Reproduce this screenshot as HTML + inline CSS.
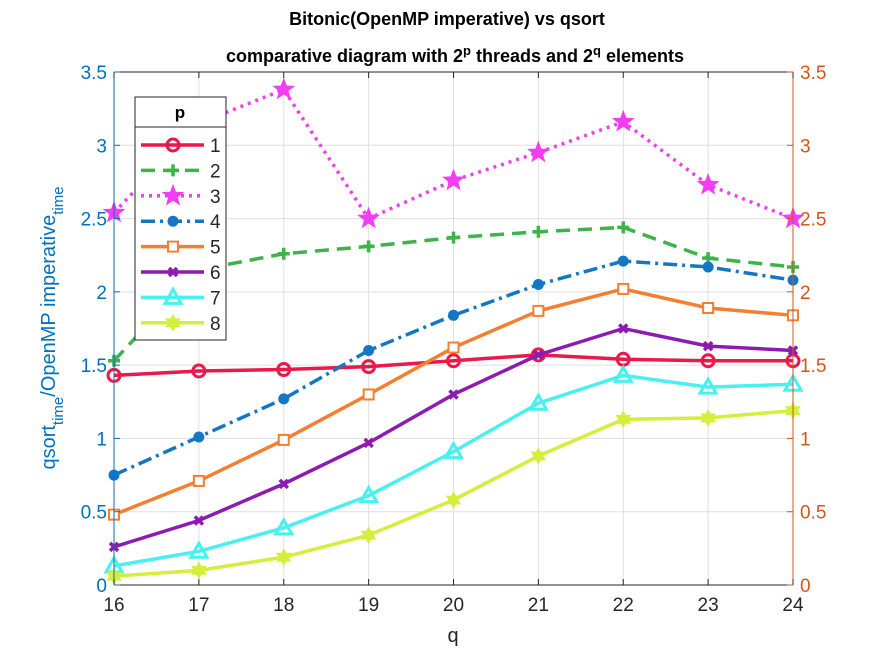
<!DOCTYPE html>
<html><head><meta charset="utf-8"><style>
body{margin:0;background:#fff;}
svg{font-family:"Liberation Sans",Arial,sans-serif;}
</style></head><body>
<svg id="chart" width="875" height="656" xmlns="http://www.w3.org/2000/svg">
<rect width="875" height="656" fill="#fff"/>
<g id="grid"></g>
<g id="series"></g>
<g id="axes"></g>
<text x="447" y="25" text-anchor="middle" font-size="18" font-weight="bold">Bitonic(OpenMP imperative) vs qsort</text>
<text x="455" y="62" text-anchor="middle" font-size="18" font-weight="bold">comparative diagram with 2<tspan dy="-7" font-size="13">p</tspan><tspan dy="7"> threads and 2</tspan><tspan dy="-7" font-size="13">q</tspan><tspan dy="7"> elements</tspan></text>
<text x="453" y="642" text-anchor="middle" font-size="20" fill="#262626">q</text>
<text transform="translate(55,328) rotate(-90)" text-anchor="middle" font-size="20" fill="#0072BD">qsort<tspan dy="8" font-size="15">time</tspan><tspan dy="-8">/OpenMP imperative</tspan><tspan dy="8" font-size="15">time</tspan></text>
<g id="legend"></g>
</svg>
<script>
const categories=[16,17,18,19,20,21,22,23,24];
const yTicks=[0,0.5,1,1.5,2,2.5,3,3.5];
const yTickLabels=["0","0.5","1","1.5","2","2.5","3","3.5"];
const seriesNames=["1","2","3","4","5","6","7","8"];
const s1=[1.43,1.46,1.47,1.49,1.53,1.57,1.54,1.53,1.53];
const s2=[1.53,2.15,2.26,2.31,2.37,2.41,2.44,2.23,2.17];
const s3=[2.54,3.15,3.38,2.50,2.76,2.95,3.16,2.73,2.50];
const s4=[0.75,1.01,1.27,1.60,1.84,2.05,2.21,2.17,2.08];
const s5=[0.48,0.71,0.99,1.30,1.62,1.87,2.02,1.89,1.84];
const s6=[0.26,0.44,0.69,0.97,1.30,1.57,1.75,1.63,1.60];
const s7=[0.13,0.23,0.39,0.61,0.91,1.24,1.43,1.35,1.37];
const s8=[0.06,0.10,0.19,0.34,0.58,0.88,1.13,1.14,1.19];
const allSeries=[s1,s2,s3,s4,s5,s6,s7,s8];

const L=114,R=793,T=72,B=585;
const X=v=>L+(v-16)/8*(R-L);
const Y=v=>B-v/3.5*(B-T);
const NS="http://www.w3.org/2000/svg";
function mk(tag,attrs,parent){const e=document.createElementNS(NS,tag);for(const k in attrs)e.setAttribute(k,attrs[k]);parent.appendChild(e);return e;}
const styles=[
{c:"#E8194B",dash:"",m:"circle"},
{c:"#3DB34A",dash:"14 8",m:"plus"},
{c:"#F23EF2",dash:"3 5",m:"star"},
{c:"#1477C4",dash:"14 5 3 5",m:"dot"},
{c:"#F47F30",dash:"",m:"square"},
{c:"#8E1BB1",dash:"",m:"x"},
{c:"#49F0F0",dash:"",m:"tri"},
{c:"#D4EE3C",dash:"",m:"hex"}];
function starPts(cx,cy,ro,ri,n){let p=[];for(let i=0;i<2*n;i++){const r=i%2?ri:ro;const a=-Math.PI/2+i*Math.PI/n;p.push((cx+r*Math.cos(a)).toFixed(1)+","+(cy+r*Math.sin(a)).toFixed(1));}return p.join(" ");}
function marker(g,type,x,y,c){
 let e;
 if(type=="circle")e=mk("circle",{cx:x,cy:y,r:6,fill:"none",stroke:c,"stroke-width":3},g);
 else if(type=="plus")e=mk("path",{d:`M${x-6} ${y}H${x+6}M${x} ${y-6}V${y+6}`,stroke:c,"stroke-width":3.5},g);
 else if(type=="star")e=mk("polygon",{points:starPts(x,y,12,5,5),fill:c},g);
 else if(type=="dot")e=mk("circle",{cx:x,cy:y,r:5.5,fill:c},g);
 else if(type=="square")e=mk("rect",{x:x-5,y:y-5,width:10,height:10,fill:"#fff",stroke:c,"stroke-width":2},g);
 else if(type=="x")e=mk("path",{d:`M${x-4} ${y-4}L${x+4} ${y+4}M${x+4} ${y-4}L${x-4} ${y+4}`,stroke:c,"stroke-width":3.5},g);
 else if(type=="tri")e=mk("polygon",{points:`${x},${y-8} ${x+8},${y+6} ${x-8},${y+6}`,fill:"none",stroke:c,"stroke-width":3},g);
 else e=mk("polygon",{points:starPts(x,y,9,5,6),fill:c},g);
 return e;
}
const grid=document.getElementById("grid");
categories.forEach(q=>{const l=mk("line",{x1:X(q),x2:X(q),y1:T,y2:B,stroke:"#dfdfdf"},grid);

});
yTicks.forEach(v=>{const l=mk("line",{x1:L,x2:R,y1:Y(v),y2:Y(v),stroke:"#dfdfdf"},grid);

});
const sg=document.getElementById("series");
allSeries.forEach((d,i)=>{
 const st=styles[i];
 const g=mk("g",{},sg);
 
 
 const pl=mk("polyline",{points:d.map((v,j)=>X(categories[j])+","+Y(v)).join(" "),fill:"none",stroke:st.c,"stroke-width":3.5,"stroke-dasharray":st.dash},g);
 
 
 d.forEach((v,j)=>{const m=marker(g,st.m,X(categories[j]),Y(v),st.c);
 
 });
});
const ax=document.getElementById("axes");
mk("line",{x1:L,x2:R,y1:T,y2:T,stroke:"#262626"},ax);
mk("line",{x1:L,x2:R,y1:B,y2:B,stroke:"#262626"},ax);
mk("line",{x1:L,x2:L,y1:T,y2:B,stroke:"#0072BD"},ax);
mk("line",{x1:R,x2:R,y1:T,y2:B,stroke:"#D95319"},ax);
categories.forEach(q=>{
 mk("line",{x1:X(q),x2:X(q),y1:B,y2:B-6,stroke:"#262626"},ax);
 mk("line",{x1:X(q),x2:X(q),y1:T,y2:T+6,stroke:"#262626"},ax);
 const t=mk("text",{x:X(q),y:B+26,"text-anchor":"middle","font-size":19,fill:"#262626"},ax);t.textContent=q;
 
 
});
yTicks.forEach((v,i)=>{
 mk("line",{x1:L,x2:L+6,y1:Y(v),y2:Y(v),stroke:"#0072BD"},ax);
 mk("line",{x1:R,x2:R-6,y1:Y(v),y2:Y(v),stroke:"#D95319"},ax);
 const t=mk("text",{x:L-7,y:Y(v)+7,"text-anchor":"end","font-size":19,fill:"#0072BD"},ax);t.textContent=yTickLabels[i];
 
 
 const t2=mk("text",{x:R+7,y:Y(v)+7,"text-anchor":"start","font-size":19,fill:"#D95319"},ax);t2.textContent=yTickLabels[i];
 
 
});
const lg=document.getElementById("legend");


mk("rect",{x:135,y:97,width:91,height:243,fill:"#fff",stroke:"#262626"},lg);
mk("line",{x1:135,x2:226,y1:127,y2:127,stroke:"#262626"},lg);
const lt=mk("text",{x:180,y:118,"text-anchor":"middle","font-size":17,"font-weight":"bold"},lg);lt.textContent="p";
seriesNames.forEach((n,i)=>{
 const y=145+i*25.4,st=styles[i];
 const g=mk("g",{},lg);
 
 
 mk("line",{x1:141,x2:204,y1:y,y2:y,stroke:st.c,"stroke-width":3.5,"stroke-dasharray":st.dash},g);
 marker(g,st.m,173,y,st.c);
 const t=mk("text",{x:210,y:y+7,"font-size":19,fill:"#262626"},g);t.textContent=n;
});
</script>
</body></html>
